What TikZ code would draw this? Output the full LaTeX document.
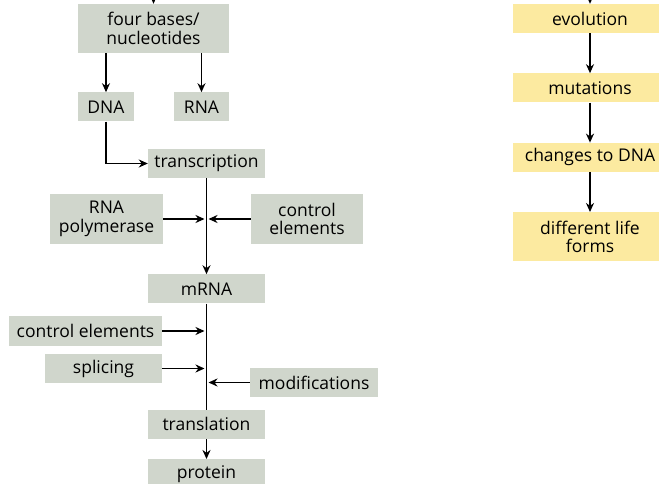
\documentclass[tikz,border=0pt]{standalone}
\usepackage{fontspec}
\setmainfont{Open Sans}
\usetikzlibrary{arrows.meta,positioning}
\definecolor{boxgray}{RGB}{208,214,204}
\definecolor{boxyellow}{RGB}{252,234,160}
\tikzstyle{box}=[fill=boxgray,minimum height=29pt,inner sep=2pt,align=center,font=\fontsize{17.5}{18.5}\selectfont]
\tikzstyle{ybox}=[box,fill=boxyellow,minimum width=154pt]
\tikzstyle{flow}=[->,>={Stealth[length=9pt,width=8pt]},line width=1.8pt,draw=black]
\tikzstyle{feed}=[flow,shorten >=2pt]

\begin{document}
\begin{tikzpicture}[x=1pt,y=1pt,node distance=40pt]
    \useasboundingbox (0,0) rectangle (659,-484);
    % left column
    \node (bases) [box, minimum width=151pt, minimum height=49pt] at (153.5,-28.5) {four bases/\\nucleotides};
    \node (dna) [box, minimum width=56pt, below=39pt of bases.south west, anchor=north west] {DNA};
    \node (rna) [box, minimum width=55pt, below=39pt of bases.south east, anchor=north east] {RNA};
    \node (trans) [box, minimum width=117pt] at (206.5,-163.5) {transcription};
    \node (pol) [box, minimum width=113pt, minimum height=50pt] at (106.5,-219) {RNA\\polymerase};
    \node (ctrlA) [box, minimum width=112pt, minimum height=50pt] at (307,-219) {control\\elements};
    \node (mrna) [box, minimum width=117pt, below=96pt of trans] {mRNA};
    \node (ctrlB) [box, minimum width=153pt, minimum height=30pt] at (85.5,-331) {control elements};
    \node (splice) [box, minimum width=117pt] at (103.5,-368.5) {splicing};
    \node (mods) [box, minimum width=128pt] at (314,-382.5) {modifications};
    \node (transl) [box, minimum width=117pt, below=106pt of mrna] {translation};
    \node (prot) [box, minimum width=117pt, below=20pt of transl] {protein};
    % right column
    \node (evo) [ybox] at (590,-18.5) {evolution};
    \node (mut) [ybox, below=of evo] {mutations};
    \node (chg) [ybox, below=of mut] {changes to DNA};
    \node (life) [ybox, minimum height=49pt, below=of chg] {different life\\forms};
    \coordinate (topL) at ([yshift=20pt]bases.north);
    \coordinate (topR) at ([yshift=20pt]evo.north);

    \draw[flow] (topL) -- (bases);
    \draw[flow] (dna.north |- bases.south) -- (dna);
    \draw[flow] (rna.north |- bases.south) -- (rna);
    \draw[flow] (dna) |- (trans);
    \draw[flow] (trans) -- (mrna);
    \draw[feed] (pol) -- (pol -| trans);
    \draw[feed] (ctrlA) -- (ctrlA -| trans);
    \draw[line width=1.8pt] (mrna) -- (transl);
    \draw[feed] (ctrlB) -- (ctrlB -| mrna);
    \draw[feed] (splice) -- (splice -| mrna);
    \draw[feed] (mods) -- (mods -| mrna);
    \draw[flow] (transl) -- (prot);

    \draw[flow] (topR) -- (evo);
    \draw[flow] (evo) -- (mut);
    \draw[flow] (mut) -- (chg);
    \draw[flow] (chg) -- (life);
\end{tikzpicture}
\end{document}
